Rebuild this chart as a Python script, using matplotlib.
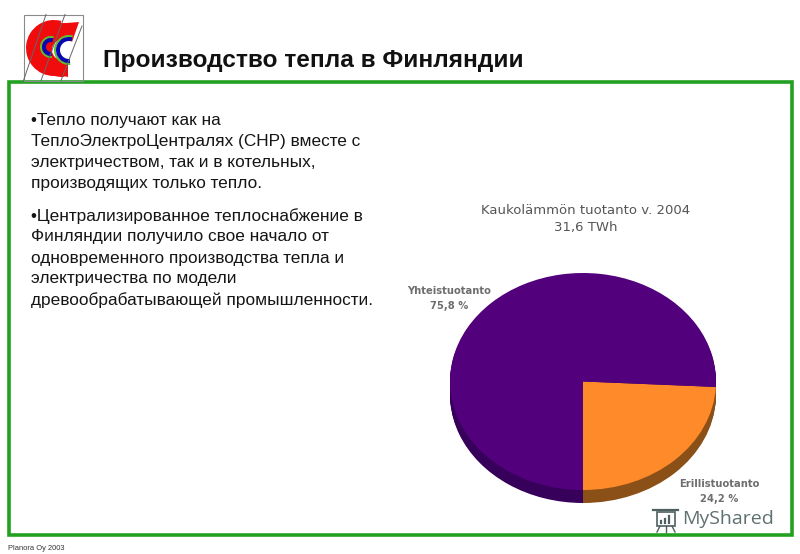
import numpy as np
import matplotlib
matplotlib.use('Agg')
import matplotlib.pyplot as plt
from matplotlib.patches import Polygon, Rectangle, Wedge

# pie data
shares = [24.2, 75.8]
pie_colors = ['#ff8a2a', '#52007c']
side_colors = ['#8a5018', '#37005a']

title = 'Производство тепла в Финляндии'
chart_title = ['Kaukolämmön tuotanto v. 2004', '31,6 TWh']
label_joint = ['Yhteistuotanto', '75,8 %']
label_separate = ['Erillistuotanto', '24,2 %']
para1 = ['•Тепло получают как на',
         'ТеплоЭлектроЦентралях (CHP) вместе с',
         'электричеством, так и в котельных,',
         'производящих только тепло.']
para2 = ['•Централизированное теплоснабжение в',
         'Финляндии получило свое начало от',
         'одновременного производства тепла и',
         'электричества по модели',
         'древообрабатывающей промышленности.']

W, H = 800, 554
plt.rcParams['font.family'] = ['Liberation Sans', 'DejaVu Sans']

fig = plt.figure(figsize=(W / 100, H / 100), dpi=100, facecolor='white')

# overlay axes in pixel coordinates for the slide furniture
bg = fig.add_axes([0, 0, 1, 1])
bg.set_xlim(0, W)
bg.set_ylim(H, 0)
bg.axis('off')

# green frame
bg.add_patch(Rectangle((9, 82), 783, 453, fill=False, edgecolor='#22a020', linewidth=2.6))

# logo box with slanted lines
bg.add_patch(Rectangle((23.5, 14.5), 59, 66, fill=False, edgecolor='#8a8a8a', linewidth=0.8))
for x0, x1 in [(23.5, 46), (41, 65), (61, 82)]:
    bg.plot([x0, x1], [80.5, 14.5 if x1 != 82 else 26], color='#666666', linewidth=0.7)

# logo C shapes
bg.add_patch(Wedge((54, 48), 28, 90, 285, width=18, facecolor='#f00c0c', edgecolor='none'))
bg.add_patch(Wedge((62, 50), 27, 85, 285, width=17, facecolor='#f00c0c', edgecolor='none'))
bg.add_patch(Polygon([(55, 24), (79, 22), (72, 42), (66, 35), (55, 36)], facecolor='#f00c0c', edgecolor='none'))
bg.add_patch(Polygon([(50, 73), (68, 77), (68, 62), (50, 60)], facecolor='#f00c0c', edgecolor='none'))
for cx, cy, r in [(51, 47, 11), (69, 50, 15)]:
    bg.add_patch(Wedge((cx, cy), r, 85, 285, width=2, facecolor='#5cc030', edgecolor='none'))
    bg.add_patch(Wedge((cx, cy), r - 2, 85, 285, width=4, facecolor='#0808b0', edgecolor='none'))

bg.text(103, 60, title, fontsize=17.6, fontweight='bold', color='#111111', va='center', ha='left')

# left text block
for i, line in enumerate(para1):
    bg.text(31, 120.5 + i * 21.0, line, fontsize=12.4, color='#151515', va='center', ha='left')
for i, line in enumerate(para2):
    bg.text(31, 216 + i * 21.0, line, fontsize=12.4, color='#151515', va='center', ha='left')

# chart labels, blurred grey in the reference
label_style = dict(family='DejaVu Sans', color='#555555', ha='center', va='center')
for i, line in enumerate(chart_title):
    bg.text(586, 211 + i * 17, line, fontsize=9.5, **label_style)
for i, line in enumerate(label_joint):
    bg.text(449, 291 + i * 15, line, fontsize=7.2, fontweight='bold', alpha=0.85, **label_style)
for i, line in enumerate(label_separate):
    bg.text(719, 484 + i * 15, line, fontsize=7.2, fontweight='bold', alpha=0.85, **label_style)

# watermark
bg.text(682, 519, 'MyShared', fontsize=14, family='Open Sans', color='#5f7070', va='center', ha='left')
bg.add_patch(Rectangle((657, 512), 18, 14, fill=False, edgecolor='#4f6060', linewidth=1.2))
bg.plot([653, 678], [510, 510], color='#4f6060', linewidth=1.6)
bg.plot([660, 657], [526, 532], color='#4f6060', linewidth=1)
bg.plot([672, 675], [526, 532], color='#4f6060', linewidth=1)
bg.plot([666, 666], [526, 532], color='#4f6060', linewidth=1)
for x, h in [(661, 2), (665, 4), (669, 7)]:
    bg.plot([x, x], [523, 523 - h], color='#4f6060', linewidth=1.6)

bg.text(8, 549, 'Planora Oy 2003', fontsize=5.4, color='#333333', va='center', ha='left')

# pie axes, the box is the top face of the squashed pie
left, right, top, bottom = 450, 716, 273, 490
depth = 13
ax = fig.add_axes([left / W, 1 - bottom / H, (right - left) / W, (bottom - top) / H])
ry_px = (bottom - top) / 2
for off in np.arange(depth, 0, -1):
    ax.pie(shares, colors=side_colors, startangle=-90, radius=1, center=(0, -off / ry_px),
           wedgeprops=dict(linewidth=0, clip_on=False))
ax.pie(shares, colors=pie_colors, startangle=-90, radius=1,
       wedgeprops=dict(linewidth=0, clip_on=False))
ax.set_aspect('auto')
ax.set_xlim(-1, 1)
ax.set_ylim(-1, 1)
ax.axis('off')

fig.savefig('out.png', dpi=100)
